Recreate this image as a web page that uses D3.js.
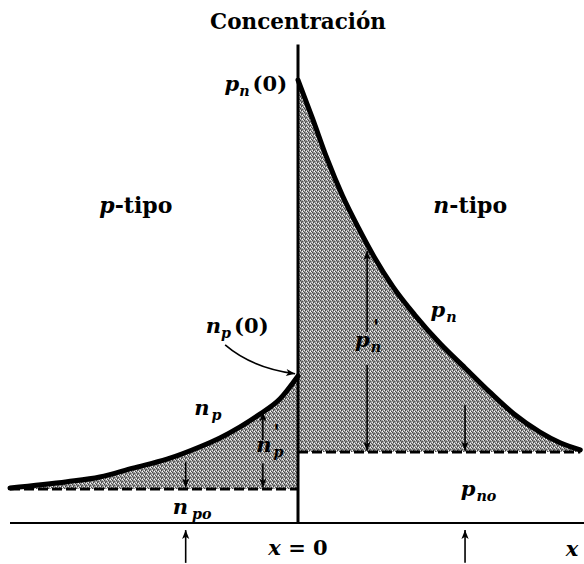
<!DOCTYPE html>
<html>
<head>
<meta charset="utf-8">
<script src="https://cdn.jsdelivr.net/npm/d3@7"></script>
<style>
  html, body { margin: 0; padding: 0; background: #fff; }
  svg { display: block; }
  text { font-family: "DejaVu Serif", "Liberation Serif", serif; font-weight: bold; fill: #000; }
  .it { font-style: italic; }
</style>
</head>
<body>
<svg id="chart" width="584" height="564"></svg>
<script>
// Position across the junction (x = 0 at the metallurgical junction)
const pnX = [0, 0.5, 1.0, 1.55, 2.1, 2.65, 3.3, 4.05, 4.95, 5.8, 6.65, 7.5, 8.4, 9.1, 9.8];
// Hole concentration on the n side, p_n(x)
const pnVal = [10.0, 9.14, 8.24, 7.38, 6.66, 6.0, 5.33, 4.7, 4.04, 3.5, 2.96, 2.46, 2.05, 1.81, 1.65];
// Electron concentration on the p side, n_p(x)
const npX = [-10, -8.02, -6.88, -5.73, -4.55, -3.4, -2.71, -2.01, -1.32, -0.63, 0];
const npVal = [0.79, 0.93, 1.04, 1.24, 1.44, 1.72, 1.92, 2.17, 2.46, 2.8, 3.32];
// Equilibrium minority-carrier levels
const pno = 1.6;
const npo = 0.77;
// Reference positions marked under the axis
const markX = [-3.9, 5.8];

const svg = d3.select("#chart");
const x = d3.scaleLinear().domain([-10, 10]).range([10, 586]);
const y = d3.scaleLinear().domain([0, 10]).range([523, 80]);

// halftone-like grey texture for the excess-carrier areas
const defs = svg.append("defs");
const pat = defs.append("pattern").attr("id", "tone")
  .attr("patternUnits", "userSpaceOnUse").attr("width", 4).attr("height", 4);
pat.append("rect").attr("width", 4).attr("height", 4).attr("fill", "#9c9c9c");
[[0,0,"#444"],[2,1,"#555"],[1,2,"#3e3e3e"],[3,3,"#505050"],[2,3,"#fff"],[0,2,"#eee"],[3,0,"#ddd"],[1,1,"#707070"]]
  .forEach(([px, py, c]) => pat.append("rect").attr("x", px).attr("y", py)
    .attr("width", 1).attr("height", 1).attr("fill", c));

const mk = defs.append("marker").attr("id", "head")
  .attr("viewBox", "0 0 10 10").attr("refX", 10).attr("refY", 5)
  .attr("markerUnits", "userSpaceOnUse")
  .attr("markerWidth", 16).attr("markerHeight", 9).attr("orient", "auto");
mk.append("path").attr("d", "M0,1 L10,5 L0,9 L2.5,5 Z").attr("fill", "#000");

const pn = pnX.map((d, i) => [d, pnVal[i]]);
const np = npX.map((d, i) => [d, npVal[i]]);

// shaded excess regions
const areaPn = d3.area().x(d => x(d[0])).y0(y(pno)).y1(d => y(d[1])).curve(d3.curveMonotoneX);
const areaNp = d3.area().x(d => x(d[0])).y0(y(npo)).y1(d => y(d[1])).curve(d3.curveMonotoneX);
svg.append("path").datum(pn).attr("d", areaPn).attr("fill", "url(#tone)");
svg.append("path").datum(np).attr("d", areaNp).attr("fill", "url(#tone)");

// equilibrium levels (dashed)
svg.append("line").attr("x1", x(-10)).attr("x2", x(0)).attr("y1", y(npo)).attr("y2", y(npo))
  .attr("stroke", "#000").attr("stroke-width", 3).attr("stroke-dasharray", "10,4");
svg.append("line").attr("x1", x(0)).attr("x2", x(9.8)).attr("y1", y(pno)).attr("y2", y(pno))
  .attr("stroke", "#000").attr("stroke-width", 3).attr("stroke-dasharray", "10,4");

// axes
svg.append("line").attr("x1", x(-10)).attr("x2", x(10)).attr("y1", y(0)).attr("y2", y(0))
  .attr("stroke", "#000").attr("stroke-width", 2);
svg.append("line").attr("x1", x(0)).attr("x2", x(0)).attr("y1", y(0)).attr("y2", y(10.8))
  .attr("stroke", "#000").attr("stroke-width", 3);

// concentration curves
const line = d3.line().x(d => x(d[0])).y(d => y(d[1])).curve(d3.curveMonotoneX);
svg.append("path").datum(pn).attr("d", line).attr("fill", "none")
  .attr("stroke", "#000").attr("stroke-width", 5).attr("stroke-linecap", "round");
svg.append("path").datum(np).attr("d", line).attr("fill", "none")
  .attr("stroke", "#000").attr("stroke-width", 5).attr("stroke-linecap", "round");

function arrow(x0, y0, x1, y1) {
  svg.append("line").attr("x1", x(x0)).attr("y1", y(y0)).attr("x2", x(x1)).attr("y2", y(y1))
    .attr("stroke", "#000").attr("stroke-width", 1.6).attr("marker-end", "url(#head)");
}
// excess-carrier arrows
arrow(markX[0], 1.38, markX[0], npo + 0.03);
arrow(-1.22, 1.87, -1.22, 2.5);
arrow(-1.22, 1.35, -1.22, npo + 0.03);
arrow(2.4, 4.31, 2.4, 6.14);
arrow(2.4, 3.57, 2.4, pno + 0.03);
arrow(markX[1], 2.66, markX[1], pno + 0.03);
// markers below the axis
markX.forEach(m => arrow(m, -0.9, m, -0.16));

// curved pointer to n_p(0)
svg.append("path")
  .attr("d", `M${x(-2.53)},${y(4.02)} Q${x(-1.6)},${y(3.5)} ${x(-0.1)},${y(3.37)}`)
  .attr("fill", "none").attr("stroke", "#000").attr("stroke-width", 1.6)
  .attr("marker-end", "url(#head)");

// labels
function label(px, py, parts, size, anchor) {
  const t = svg.append("text").attr("x", px).attr("y", py)
    .attr("font-size", size).attr("text-anchor", anchor || "start");
  parts.forEach(p => {
    const s = t.append("tspan").text(p.t);
    if (p.it) s.attr("class", "it");
    if (p.sub) s.attr("font-size", size * 0.68).attr("dy", p.sub);
    if (p.dy) s.attr("dy", p.dy);
    if (p.dx) s.attr("dx", p.dx);
  });
  return t;
}

label(x(0), 29, [{t: "Concentración"}], 21.5, "middle");
label(x(-6.9), 213, [{t: "p", it: 1}, {t: "-tipo"}], 22);
label(x(4.7), 213, [{t: "n", it: 1}, {t: "-tipo"}], 22);
label(x(-2.55), y(9.75), [{t: "p", it: 1}, {t: "n", it: 1, sub: 5}, {t: "(0)", dy: -5, dx: 3}], 21);
label(x(-3.2), y(4.28), [{t: "n", it: 1}, {t: "p", it: 1, sub: 5}, {t: "(0)", dy: -5, dx: 3}], 21);
label(x(-3.6), y(2.43), [{t: "n", it: 1}, {t: "p", it: 1, sub: 5, dx: 2}], 21);
label(x(-1.45), y(1.6), [{t: "n", it: 1}, {t: "p", it: 1, sub: 5, dx: 2}], 21);
label(x(-0.85), y(1.9), [{t: "'", it: 1}], 20);
label(x(4.6), y(4.65), [{t: "p", it: 1}, {t: "n", it: 1, sub: 5, dx: 1}], 21);
label(x(1.98), y(3.97), [{t: "p", it: 1}, {t: "n", it: 1, sub: 5, dx: 1}], 21);
label(x(2.6), y(4.27), [{t: "'", it: 1}], 20);
label(x(-4.35), y(0.2), [{t: "n", it: 1}, {t: "po", it: 1, sub: 5, dx: 4}], 21);
label(x(5.65), y(0.6), [{t: "p", it: 1}, {t: "no", it: 1, sub: 5, dx: 1}], 21);
label(x(0), 555, [{t: "x", it: 1}, {t: " = 0"}], 21, "middle");
label(x(9.3), 556, [{t: "x", it: 1}], 21);
</script>
</body>
</html>
